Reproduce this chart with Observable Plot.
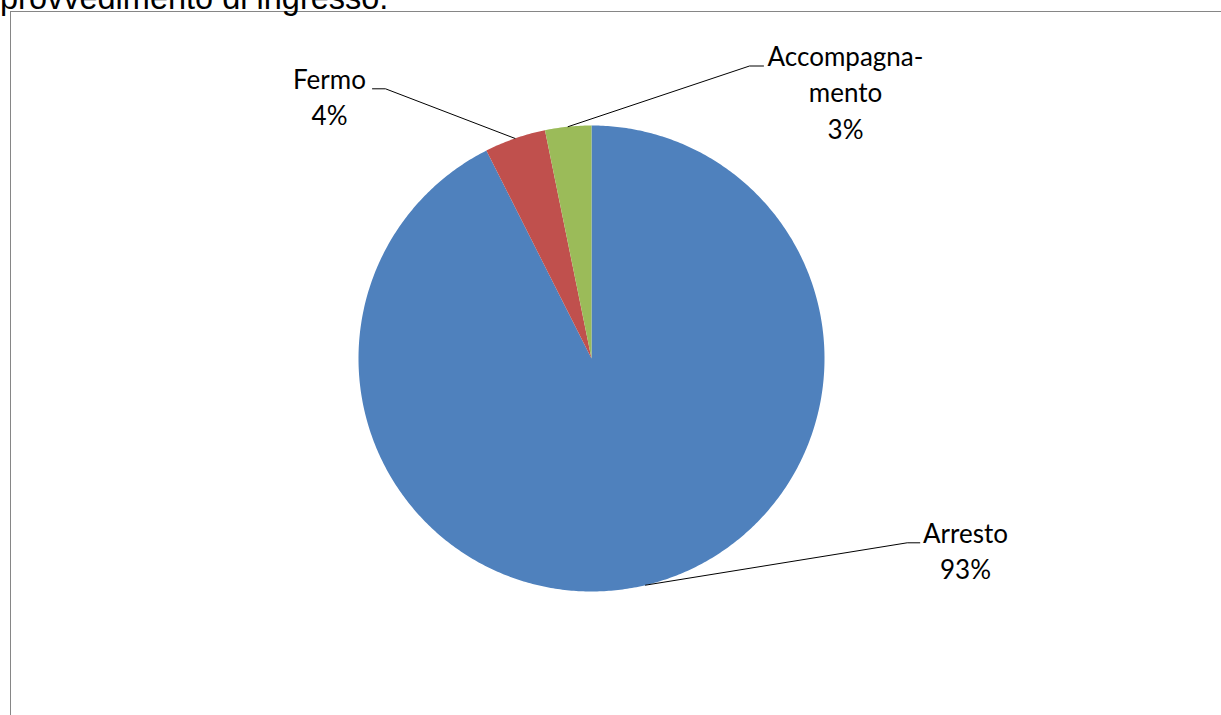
<!DOCTYPE html>
<html>
<head>
<meta charset="utf-8">
<script src="https://cdn.jsdelivr.net/npm/d3@7"></script>
<script src="https://cdn.jsdelivr.net/npm/@observablehq/plot@0.6"></script>
<style>
  html, body { margin: 0; padding: 0; background: #fff; }
  #wrap { position: relative; width: 1221px; height: 715px; overflow: hidden; background: #fff; }
  #title { position: absolute; left: 0; top: -18.5px; font-family: "Liberation Sans", Arial, sans-serif; font-size: 32.5px; line-height: 1; color: #000; white-space: nowrap; }
  #box { position: absolute; left: 10px; top: 11px; width: 1300px; height: 800px; border: 1px solid #868686; box-sizing: border-box; }
  #chart { position: absolute; left: 0; top: 0; }
</style>
</head>
<body>
<div id="wrap">
  <div id="box"></div>
  <div id="title">provvedimento di ingresso.</div>
  <div id="chart"></div>
</div>
<script>
// ---- data ----
const categories = ["Arresto", "Fermo", "Accompagnamento"];
const labelNames = ["Arresto", "Fermo", "Accompagna-\nmento"];
const shares = [92.55, 4.25, 3.2];
const colors = ["#4F81BD", "#C0504D", "#9BBB59"];

// ---- layout (pixels) ----
const W = 1221, H = 715;
const CX = 591, CY = 358, R = 233;
const FONT = 26, LH = 1.404;
const labelLayout = {
  "Arresto":         {textX: 965, baseY: 542.3, elbowX: 906.7, endX: 919.3},
  "Fermo":           {textX: 329, baseY: 88.3,  elbowX: 385,   endX: 372},
  "Accompagnamento": {textX: 845, baseY: 65.5,  elbowX: 749,   endX: 763}
};
const ux = px => (px - CX) / R;
const uy = py => (CY - py) / R;

const total = d3.sum(shares);
const arcs = d3.pie().sort(null).value(d => d)(shares);

// slice polygons in unit coords (y up), clockwise from 12 o'clock
const slicePts = [];
arcs.forEach((a, i) => {
  const name = categories[i];
  slicePts.push({name, x: 0, y: 0});
  const n = Math.max(2, Math.ceil((a.endAngle - a.startAngle) / 0.01));
  for (let k = 0; k <= n; k++) {
    const t = a.startAngle + (a.endAngle - a.startAngle) * k / n;
    slicePts.push({name, x: Math.sin(t), y: Math.cos(t)});
  }
  slicePts.push({name, x: 0, y: 0});
});

// leader lines and labels
const leaderPts = [];
const labels = [];
arcs.forEach((a, i) => {
  const name = categories[i];
  const L = labelLayout[name];
  const mid = (a.startAngle + a.endAngle) / 2;
  leaderPts.push({name, x: Math.sin(mid), y: Math.cos(mid)});
  leaderPts.push({name, x: ux(L.elbowX), y: uy(L.baseY)});
  leaderPts.push({name, x: ux(L.endX), y: uy(L.baseY)});
  labels.push({
    name,
    x: ux(L.textX),
    y: uy(L.baseY - 0.71 * LH * FONT),
    text: labelNames[i] + "\n" + Math.round(shares[i] / total * 100) + "%"
  });
});

const chart = Plot.plot({
  width: W,
  height: H,
  marginLeft: CX - R,
  marginRight: W - (CX + R),
  marginTop: CY - R,
  marginBottom: H - (CY + R),
  x: {domain: [-1, 1], axis: null},
  y: {domain: [-1, 1], axis: null},
  color: {domain: categories, range: colors},
  style: {background: "transparent", overflow: "visible"},
  marks: [
    Plot.line(slicePts, {x: "x", y: "y", z: "name", fill: "name", stroke: "none", curve: "linear"}),
    Plot.line(leaderPts, {x: "x", y: "y", z: "name", stroke: "#000", strokeWidth: 1, curve: "linear"}),
    Plot.text(labels, {
      x: "x", y: "y", text: "text",
      lineAnchor: "top", textAnchor: "middle",
      lineHeight: LH, fontSize: FONT, fontFamily: "Lato, 'Open Sans', sans-serif",
      fill: "#000"
    })
  ]
});
document.getElementById("chart").appendChild(chart);
</script>
</body>
</html>
